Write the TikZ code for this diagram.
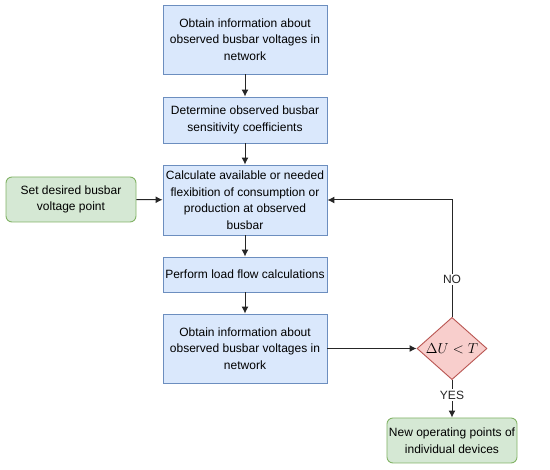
\documentclass[tikz,border=0pt]{standalone}
\usepackage{fontspec}
\setsansfont{Liberation Sans}
\usepackage{xcolor}
\usepackage{tikz}
\usetikzlibrary{arrows.meta,positioning,shapes.geometric}

\definecolor{procfill}{HTML}{DAE8FC}
\definecolor{procline}{HTML}{6C8EBF}
\definecolor{termfill}{HTML}{D5E8D4}
\definecolor{termline}{HTML}{82B366}
\definecolor{decfill}{HTML}{F8CECC}
\definecolor{decline}{HTML}{B85450}

\begin{document}
\begin{tikzpicture}[x=1pt,y=-1pt,font=\sffamily\fontsize{12}{16.5}\selectfont,
  proc/.style={draw=procline,fill=procfill,align=center,line width=0.9pt,
    minimum width=164pt,inner xsep=2pt,inner ysep=1pt},
  term/.style={draw=termline,fill=termfill,align=center,line width=0.9pt,rounded corners=6pt,
    minimum width=130pt,minimum height=45pt,inner xsep=2pt,inner ysep=1pt},
  dec/.style={draw=decline,fill=decfill,diamond,line width=0.9pt,inner sep=0pt,
    minimum width=70pt,minimum height=61pt,font=\fontsize{15}{17}\selectfont},
  lbl/.style={fill=white,inner sep=1.5pt},
  ed/.style={-{Latex[length=7pt,width=7pt]},line width=1pt,black!85}]
\useasboundingbox (0,0) rectangle (550,470);

\node[proc,minimum height=69pt] (obtA) at (245,39.5)
  {Obtain information about\\ observed busbar voltages in\\ network};
\node[proc,minimum height=46pt] (sens) at (245,120)
  {Determine observed busbar\\ sensitivity coefficients};
\node[proc,minimum height=70pt] (flex) at (245,200)
  {Calculate available or needed\\ flexibition of consumption or\\ production at observed\\ busbar};
\node[term] (setpt) at (71,199.5) {Set desired busbar\\ voltage point};
\node[proc,minimum height=35pt] (load) at (245,274.5) {Perform load flow calculations};
\node[proc,minimum height=69pt] (obtB) at (245,348.5)
  {Obtain information about\\ observed busbar voltages in\\ network};
\node[dec] (cmp) at (452,348.5) {$\Delta U<T$};
\node[term] (newop) at (452,440.5) {New operating points of\\ individual devices};

\draw[ed] (obtA) -- (sens);
\draw[ed] (sens) -- (flex);
\draw[ed] (flex) -- (load);
\draw[ed] (load) -- (obtB);
\draw[ed] (setpt) -- (flex);
\draw[ed] (obtB) -- (cmp);
\draw[ed] (cmp) |- node[lbl,pos=0.16] {NO} (flex);
\draw[ed] (cmp) -- node[lbl,pos=0.4] {YES} (newop);
\end{tikzpicture}
\end{document}
